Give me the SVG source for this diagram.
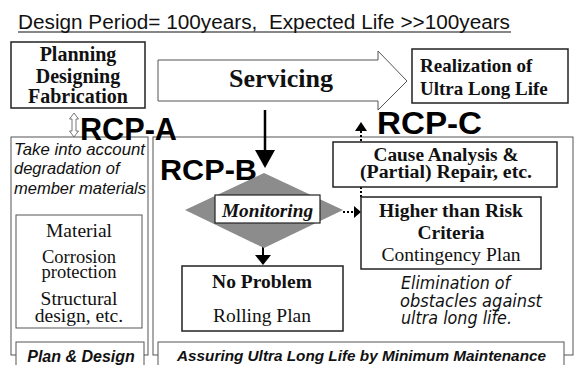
<svg xmlns="http://www.w3.org/2000/svg" width="578" height="365" viewBox="0 0 578 365">
<defs>
<style>
.bx{fill:#fff;stroke:#222;stroke-width:1.5}
.gx{fill:#fff;stroke:#555;stroke-width:1}
.sb{font-family:"Liberation Serif",serif;font-weight:bold;fill:#111}
.sr{font-family:"Liberation Serif",serif;fill:#111}
.rcp{font-family:"Liberation Sans",Arial,sans-serif;font-weight:bold;fill:#000}
.it{font-family:"Liberation Sans",Arial,sans-serif;font-style:italic;fill:#111}
.bi{font-family:"Liberation Sans",Arial,sans-serif;font-style:italic;font-weight:bold;fill:#111}
.el{font-family:"DejaVu Sans Condensed","DejaVu Sans",sans-serif;font-style:oblique;fill:#111}
.dot{stroke:#000;stroke-width:2;stroke-dasharray:2 2;fill:none}
</style>
</defs>
<rect width="578" height="365" fill="#fff"/>
<g id="title">
<text x="18" y="29" font-family="Liberation Sans, Arial, sans-serif" font-size="20.5" fill="#111" textLength="492" lengthAdjust="spacingAndGlyphs">Design Period= 100years,&#160; Expected Life &gt;&gt;100years</text>
<line x1="18" y1="32" x2="511" y2="32" stroke="#111" stroke-width="1.2"/>
</g>
<g id="left-panel">
<rect class="gx" x="11" y="137" width="137" height="218"/>
<text class="it" font-size="16.5" x="14" y="155" textLength="131" lengthAdjust="spacingAndGlyphs">Take into account</text>
<text class="it" font-size="16.5" x="14" y="174">degradation of</text>
<text class="it" font-size="16.5" x="14" y="194">member materials</text>
</g>
<g id="middle-panel">
<rect class="gx" x="153" y="137" width="420" height="218"/>
</g>
<g id="planning">
<rect class="bx" x="11" y="42" width="134" height="66"/>
<text class="sb" font-size="20" x="78" y="61" text-anchor="middle">Planning</text>
<text class="sb" font-size="20" x="78" y="83" text-anchor="middle">Designing</text>
<text class="sb" font-size="20" x="78" y="103" text-anchor="middle">Fabrication</text>
</g>
<g id="servicing">
<polygon points="158,60 378,60 378,51 407,81 378,110 378,101 158,101" fill="#fff" stroke="#555" stroke-width="1"/>
<text class="sb" font-size="26" x="281" y="87" text-anchor="middle">Servicing</text>
</g>
<g id="realization">
<rect class="bx" x="412" y="49" width="156" height="54"/>
<text class="sb" font-size="19" x="420" y="72">Realization of</text>
<text class="sb" font-size="19" x="420" y="95">Ultra Long Life</text>
</g>
<g id="rcp-labels">
<text class="rcp" font-size="31" x="80" y="140" textLength="97" lengthAdjust="spacingAndGlyphs">RCP-A</text>
<text class="rcp" font-size="29" x="160" y="180" textLength="97" lengthAdjust="spacingAndGlyphs">RCP-B</text>
<text class="rcp" font-size="31" x="377" y="134" textLength="105" lengthAdjust="spacingAndGlyphs">RCP-C</text>
<polygon points="74,113 78.5,119 76,119 76,131 78.5,131 74,137 69.5,131 72,131 72,119 69.5,119" fill="#fff" stroke="#555" stroke-width="0.8"/>
</g>
<g id="connectors">
<line x1="265" y1="110" x2="265" y2="152" stroke="#000" stroke-width="2.5"/>
<polygon points="255,150 275,150 265,168" fill="#000"/>
<line x1="263" y1="247" x2="263" y2="257" stroke="#000" stroke-width="2"/>
<polygon points="255,255 271,255 263,265" fill="#000"/>
<line class="dot" x1="343" y1="212" x2="355" y2="212"/>
<polygon points="354,206 361,212 354,218" fill="#000"/>
<line class="dot" x1="361" y1="197" x2="361" y2="130"/>
<polygon points="355,131 367,131 361,122" fill="#000"/>
</g>
<g id="material">
<rect class="gx" x="16" y="215" width="126" height="113"/>
<text class="sr" font-size="19.5" x="79" y="237" text-anchor="middle">Material</text>
<text class="sr" font-size="18.5" x="79" y="263" text-anchor="middle">Corrosion</text>
<text class="sr" font-size="18.5" x="79" y="278" text-anchor="middle">protection</text>
<text class="sr" font-size="19.5" x="79" y="305" text-anchor="middle">Structural</text>
<text class="sr" font-size="19.5" x="79" y="322" text-anchor="middle">design, etc.</text>
</g>
<g id="monitoring">
<polygon points="264,173 343,210 264,248 185,210" fill="#8c8c8c"/>
<rect x="215" y="195" width="105" height="28" fill="#fff" stroke="#222" stroke-width="1.2"/>
<text class="sb" font-size="19.3" font-style="italic" x="267.5" y="217" text-anchor="middle">Monitoring</text>
</g>
<g id="no-problem">
<rect class="bx" x="182" y="266" width="161" height="65" stroke-width="1.2"/>
<text class="sb" font-size="19.5" x="262" y="288" text-anchor="middle">No Problem</text>
<text class="sr" font-size="19.5" x="262" y="322" text-anchor="middle">Rolling Plan</text>
</g>
<g id="cause">
<rect class="bx" x="333" y="142" width="224" height="45" stroke-width="1.2"/>
<text class="sb" font-size="18.5" x="446" y="161" text-anchor="middle" textLength="145" lengthAdjust="spacingAndGlyphs">Cause Analysis &amp;</text>
<text class="sb" font-size="18.5" x="446" y="178" text-anchor="middle" textLength="172" lengthAdjust="spacingAndGlyphs">(Partial) Repair, etc.</text>
</g>
<g id="higher">
<rect class="bx" x="361" y="197" width="180" height="72" stroke-width="1.2"/>
<text class="sb" font-size="19.5" x="451" y="217" text-anchor="middle">Higher than Risk</text>
<text class="sb" font-size="19.5" x="451" y="239" text-anchor="middle">Criteria</text>
<text class="sr" font-size="19.5" x="451" y="261" text-anchor="middle">Contingency Plan</text>
</g>
<g id="elimination">
<text class="el" font-size="18" x="401" y="289" textLength="109" lengthAdjust="spacingAndGlyphs">Elimination of</text>
<text class="el" font-size="18" x="400" y="306.5" textLength="142" lengthAdjust="spacingAndGlyphs">obstacles against</text>
<text class="el" font-size="18" x="401" y="324" textLength="111" lengthAdjust="spacingAndGlyphs">ultra long life.</text>
</g>
<g id="plan-design">
<rect class="gx" x="16" y="342" width="128" height="30"/>
<text class="bi" font-size="16" x="81" y="362" text-anchor="middle">Plan &amp; Design</text>
</g>
<g id="assuring">
<rect class="gx" x="158" y="342" width="406" height="30"/>
<text class="bi" font-size="15.3" x="177" y="361" textLength="369" lengthAdjust="spacingAndGlyphs">Assuring Ultra Long Life by Minimum Maintenance</text>
</g>
</svg>
